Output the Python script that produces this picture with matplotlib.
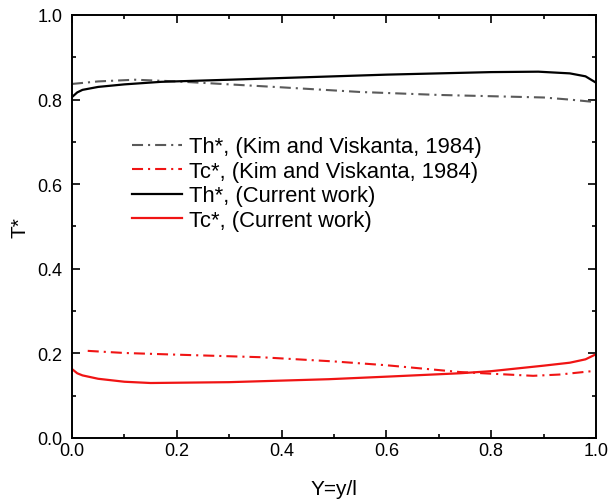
import numpy as np
import matplotlib
matplotlib.use("Agg")
import matplotlib.pyplot as plt
from matplotlib.ticker import MultipleLocator

plt.rcParams['font.family'] = ['Liberation Sans', 'DejaVu Sans']

# Th*, current work (solid black)
x_th = [0.0, 0.01, 0.02, 0.05, 0.1, 0.17, 0.3, 0.4, 0.5, 0.6, 0.7, 0.8, 0.89, 0.95, 0.98, 1.0]
th_cur = [0.806, 0.817, 0.823, 0.83, 0.836, 0.842, 0.847, 0.851, 0.855, 0.859, 0.862, 0.865, 0.866, 0.862, 0.855, 0.84]

# Th*, Kim and Viskanta 1984 (gray dash-dot)
x_thk = [0.0, 0.05, 0.12, 0.2, 0.3, 0.4, 0.55, 0.7, 0.8, 0.9, 0.95, 1.0]
th_kim = [0.837, 0.843, 0.847, 0.843, 0.836, 0.829, 0.818, 0.811, 0.808, 0.805, 0.80, 0.794]

# Tc*, Kim and Viskanta 1984 (red dash-dot)
x_tck = [0.03, 0.1, 0.2, 0.36, 0.5, 0.6, 0.74, 0.8, 0.88, 0.93, 1.0]
tc_kim = [0.206, 0.201, 0.197, 0.191, 0.181, 0.172, 0.156, 0.152, 0.147, 0.150, 0.159]

# Tc*, current work (solid red)
x_tc = [0.0, 0.01, 0.02, 0.05, 0.1, 0.15, 0.3, 0.49, 0.6, 0.74, 0.8, 0.9, 0.95, 0.98, 1.0]
tc_cur = [0.163, 0.153, 0.148, 0.140, 0.133, 0.130, 0.132, 0.139, 0.145, 0.153, 0.158, 0.171, 0.178, 0.186, 0.198]

red = '#f01414'
gray = '#5a5a5a'
dd = (5.3, 2.4, 1, 2.4)

fig = plt.figure(figsize=(6.1, 5.02), dpi=100)
ax = fig.add_axes([72/610, 63/502, 524/610, 423/502])

ax.plot(x_thk, th_kim, color=gray, lw=1.5, dashes=dd, label='Th*, (Kim and Viskanta, 1984)')
ax.plot(x_tck, tc_kim, color=red, lw=1.5, dashes=dd, label='Tc*, (Kim and Viskanta, 1984)')
ax.plot(x_th, th_cur, color='black', lw=1.6, label='Th*, (Current work)')
ax.plot(x_tc, tc_cur, color=red, lw=1.6, label='Tc*, (Current work)')

ax.set_xlim(0, 1)
ax.set_ylim(0, 1)
ax.xaxis.set_major_locator(MultipleLocator(0.2))
ax.xaxis.set_minor_locator(MultipleLocator(0.1))
ax.yaxis.set_major_locator(MultipleLocator(0.2))
ax.yaxis.set_minor_locator(MultipleLocator(0.1))
ax.tick_params(which='both', direction='in', top=True, right=True, labelsize=13, width=1.2)
ax.tick_params(which='major', length=6)
ax.tick_params(which='minor', length=3)
ax.tick_params(axis='x', which='major', pad=3)
ax.tick_params(axis='y', which='major', pad=7)
for s in ax.spines.values():
    s.set_linewidth(1.4)

ax.set_xlabel('Y=y/l', fontsize=15, va='center')
ax.xaxis.set_label_coords(0.5, -0.12)
ax.set_ylabel('T*', fontsize=15, va='center')
ax.yaxis.set_label_coords(-0.099, 0.5)

ax.legend(loc='upper left', bbox_to_anchor=(0.1145, 0.713), frameon=False,
          fontsize=15.8, handlelength=2.3, handletextpad=0.28, labelspacing=0.16,
          borderaxespad=0, borderpad=0)

fig.savefig('out.png', dpi=100)
